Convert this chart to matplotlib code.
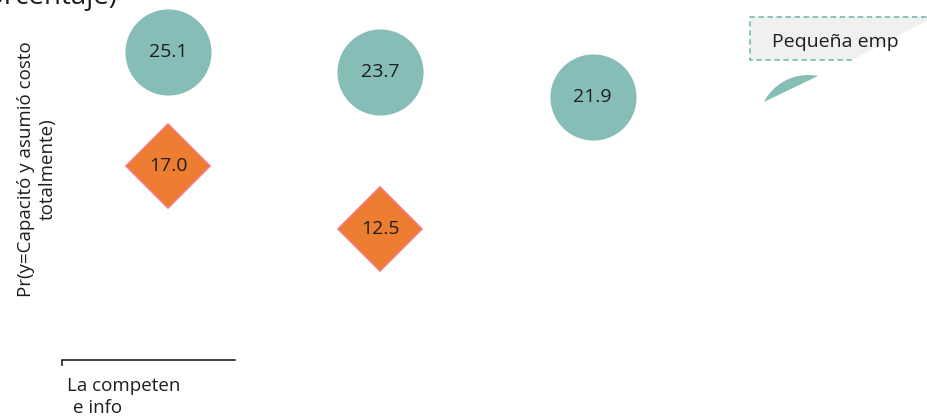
import numpy as np
import matplotlib
matplotlib.use("Agg")
import matplotlib.pyplot as plt
from matplotlib.patches import Polygon

plt.rcParams['font.family'] = ['Open Sans', 'DejaVu Sans']

# data
categorias = ["La competen", "e info"]
grande = [25.1, 23.7, 21.9]      # circulos
pequena = [17.0, 12.5, None]     # rombos
teal = "#87BDB7"
naranja = "#ED7D31"
texto = "#1e1e1e"

W, H = 928, 416
fig = plt.figure(figsize=(W / 100, H / 100), dpi=100)

# axes: x from pixel 62 to 928, y from pixel 0 to 360
ax = fig.add_axes([62 / W, 56 / H, (W - 62) / W, 360 / H])
ax.set_xlim(-0.5, -0.5 + (W - 62) / 212.3)
ax.set_ylim(3.12, 28.83)
ax.patch.set_alpha(0)

x = np.arange(len(grande))
ax.plot(x, grande, linestyle="none", marker="o", markersize=61,
        markerfacecolor=teal, markeredgecolor=teal, clip_on=False)
xp = [i for i, v in enumerate(pequena) if v is not None]
yp = [v for v in pequena if v is not None]
ax.plot(xp, yp, linestyle="none", marker="D", markersize=42.5,
        markerfacecolor=naranja, markeredgecolor="#F47C7C",
        markeredgewidth=1.2, clip_on=False)

for xi, v in zip(x, grande):
    ax.text(xi, v, f"{v:.1f}", ha="center", va="center", fontsize=14, color=texto)
for xi, v in zip(xp, yp):
    ax.text(xi, v, f"{v:.1f}", ha="center", va="center", fontsize=14, color=texto)

for s in ["top", "right", "left"]:
    ax.spines[s].set_visible(False)
ax.spines["bottom"].set_bounds(-0.5, (234 - 167) / 212.3)
ax.spines["bottom"].set_color("#111111")
ax.spines["bottom"].set_linewidth(1.1)
ax.set_yticks([])
ax.set_xticks([-0.5])
ax.set_xticklabels([""])
ax.tick_params(axis="x", direction="out", length=4.5, width=1.1, color="#111111")

# category label (clipped in the original)
fig.text(67 / W, 1 - 391 / H, categorias[0], ha="left", va="baseline", fontsize=13.5, color=texto)
fig.text(73 / W, 1 - 413 / H, categorias[1], ha="left", va="baseline", fontsize=13.5, color=texto)

# y label
fig.text(37 / W, 1 - 169 / H, "Pr(y=Capacitó y asumió costo\ntotalmente)",
         rotation=90, ha="center", va="center", fontsize=13.5, color=texto,
         multialignment="center", linespacing=1.25)

# title fragment, cut at top
fig.text(118 / W, 1 - 4 / H, "(porcentaje)", ha="right", va="baseline",
         fontsize=20, color=texto)

# legend fragment
fig.patches.append(Polygon([[750, H - 17], [928, H - 17], [928, H - 20], [852, H - 60], [750, H - 60]],
                           closed=True, facecolor="#F0F0F0", edgecolor="none",
                           transform=None, figure=fig))
fig.lines.append(plt.Line2D([852, 750, 750, 928], [H - 60, H - 60, H - 17, H - 17],
                            transform=None, color="#7FC0B8", linestyle=(0, (3, 2)),
                            linewidth=1.3, figure=fig))
fig.text(772 / W, 1 - 42 / H, "Pequeña emp", ha="left", va="center", fontsize=14, color=texto)

# teal wedge (partial legend marker)
cx, cy, r = 808.3, 125.0, 50.0
a0 = np.arctan2(-(102 - cy), 764 - cx)
a1 = np.arctan2(-(76 - cy), 818 - cx)
ang = np.linspace(a0, a1, 30)
pts = np.column_stack([cx + r * np.cos(ang), H - (cy - r * np.sin(ang))])
fig.patches.append(Polygon(pts, closed=True, facecolor=teal, edgecolor="none",
                           transform=None, figure=fig))

fig.savefig("out.png", dpi=100)
